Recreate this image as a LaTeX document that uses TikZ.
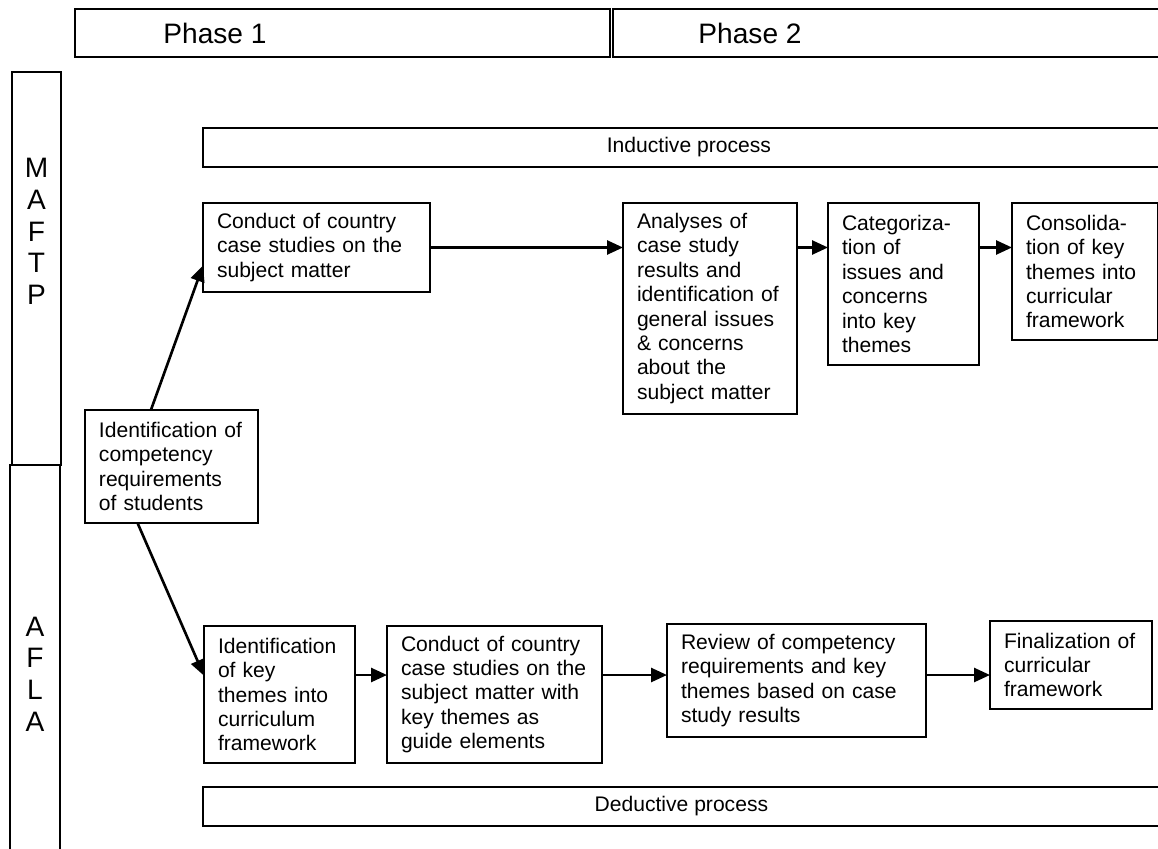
\documentclass[tikz,border=0pt]{standalone}
\usepackage{fontspec}
\setmainfont{Liberation Sans}
\usepackage{tikz}
\usetikzlibrary{arrows.meta}
\newcommand{\bodyfont}{\fontsize{12}{13.9}\selectfont}
\newcommand{\bandfont}{\fontsize{16}{18}\selectfont}
\tikzset{
	stepbox/.style={draw, line width=1.1pt, align=left, anchor=north west, inner xsep=0.28cm, inner ysep=0pt, outer sep=0pt, font=\bodyfont},
	band/.style={draw, line width=1.1pt, anchor=north west, inner sep=0pt, outer sep=0pt, minimum height=0.78cm, font=\bodyfont},
	flow/.style={-{Triangle[length=0.32cm, width=0.28cm]}, line width=1.5pt},
}

\begin{document}
\begin{tikzpicture}[x=0.02cm, y=-0.02cm]
		\clip (0,0) rectangle (1158,848);
		\draw[line width=1.1pt] (75,9) rectangle (610,57);
		\draw[line width=1.1pt] (613,9) rectangle (1175,57);
		\node[font=\bandfont] (phase1) at (215,33) {Phase 1};
		\node[font=\bandfont] (phase2) at (750,33) {Phase 2};
		\draw[line width=1.1pt] (12,72) rectangle (61,465);
		\draw[line width=1.1pt] (10,465) rectangle (60,870);
		\node[font=\bandfont, align=center] (maftp) at (36.5,231.5) {M\\A\\F\\T\\P};
		\node[font=\bandfont, align=center] (afla) at (35,674) {A\\F\\L\\A};
		\node[band, minimum width=19.44cm] (inductive) at (203,128) {Inductive process};
		\node[band, minimum width=19.14cm] (deductive) at (203,787) {Deductive process};
		\node[stepbox, text width=2.9cm, minimum height=2.26cm] (ident) at (85,410) {Identification of\\competency\\requirements\\of students};
		\node[stepbox, text width=3.98cm, minimum height=1.78cm] (conductA) at (203,203) {Conduct of country\\case studies on the\\subject matter};
		\node[stepbox, text width=2.92cm, minimum height=4.22cm] (analyses) at (623,203) {Analyses of\\case study\\results and\\identification of\\general issues\\\& concerns\\about the\\subject matter};
		\node[stepbox, text width=2.46cm, minimum height=3.24cm] (categ) at (828,203) {Categoriza-\\tion of\\issues and\\concerns\\into key\\themes};
		\node[stepbox, text width=2.36cm, minimum height=2.74cm] (consol) at (1012,203) {Consolida-\\tion of key\\themes into\\curricular\\framework};
		\node[stepbox, text width=2.46cm, minimum height=2.74cm] (keythemes) at (204,626) {Identification\\of key\\themes into\\curriculum\\framework};
		\node[stepbox, text width=3.74cm, minimum height=2.74cm] (conductB) at (387,626) {Conduct of country\\case studies on the\\subject matter with\\key themes as\\guide elements};
		\node[stepbox, text width=4.62cm, minimum height=2.26cm] (review) at (667,624) {Review of competency\\requirements and key\\themes based on case\\study results};
		\node[stepbox, text width=2.68cm, minimum height=1.76cm] (final) at (990,621) {Finalization of\\curricular\\framework};
		\coordinate (lowrow) at (0,675);
		\draw[flow] (ident.110) -- (conductA.189);
		\draw[flow] (ident.239) -- (keythemes.166);
		\draw[flow] (conductA.east) -- (conductA.east -| analyses.west);
		\draw[flow] (analyses.east |- conductA.east) -- (categ.west |- conductA.east);
		\draw[flow] (categ.east |- conductA.east) -- (consol.west |- conductA.east);
		\draw[flow] (keythemes.east |- lowrow) -- (conductB.west |- lowrow);
		\draw[flow] (conductB.east |- lowrow) -- (review.west |- lowrow);
		\draw[flow] (review.east |- lowrow) -- (final.west |- lowrow);
	\end{tikzpicture}
\end{document}
